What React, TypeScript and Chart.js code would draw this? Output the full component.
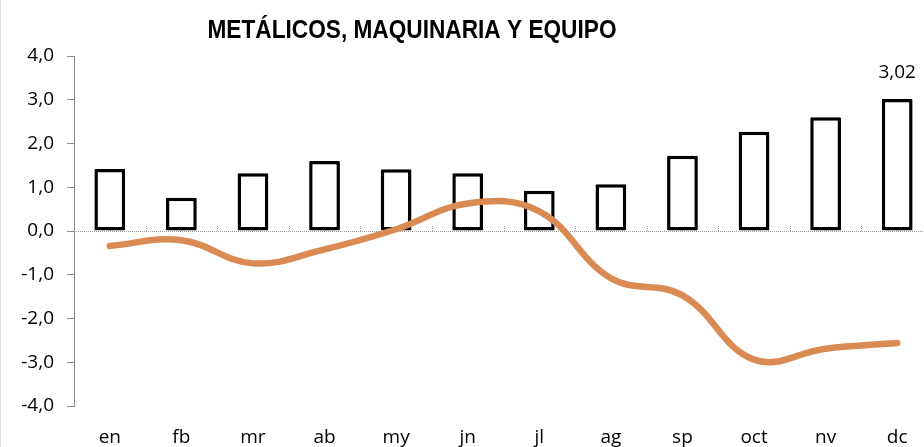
import React, { useEffect, useRef } from "react";
import { Chart, registerables } from "chart.js";

Chart.register(...registerables);

const categories = ["en", "fb", "mr", "ab", "my", "jn", "jl", "ag", "sp", "oct", "nv", "dc"];
const barValues = [1.42, 0.76, 1.32, 1.6, 1.41, 1.32, 0.92, 1.07, 1.72, 2.27, 2.6, 3.02];
const lineValues = [-0.34, -0.21, -0.74, -0.42, 0.04, 0.63, 0.45, -1.08, -1.47, -2.94, -2.69, -2.56];
const yMin = -4;
const yMax = 4;
const yStep = 1;
const titleText = "METÁLICOS, MAQUINARIA Y EQUIPO";
const labelIndex = 11;
const labelText = "3,02";

const FAMILY = "'Open Sans', 'Noto Sans', sans-serif";
const tickFont = { family: FAMILY, size: 19 };

const fmt = (v: number) => v.toFixed(1).replace(".", ",");

const decorPlugin = {
  id: "decor",
  beforeDatasetsDraw(chart: any) {
    const { ctx, chartArea, scales } = chart;
    const y0 = Math.round(scales.y.getPixelForValue(0));
    ctx.save();
    ctx.strokeStyle = "#9a9a9a";
    ctx.lineWidth = 1;
    ctx.setLineDash([1, 1]);
    ctx.beginPath();
    ctx.moveTo(chartArea.left, y0 + 0.5);
    ctx.lineTo(chartArea.right, y0 + 0.5);
    ctx.stroke();
    const xs = scales.x;
    const half = (xs.getPixelForValue(1) - xs.getPixelForValue(0)) / 2;
    for (let i = 0; i < categories.length; i++) {
      const c = xs.getPixelForValue(i);
      [c, c + half].forEach((px) => {
        ctx.beginPath();
        ctx.moveTo(Math.round(px) + 0.5, y0 - 5);
        ctx.lineTo(Math.round(px) + 0.5, y0);
        ctx.stroke();
      });
    }
    ctx.restore();
  },
  afterDatasetsDraw(chart: any) {
    const { ctx } = chart;
    const meta = chart.getDatasetMeta(1);
    const bar = meta.data[labelIndex];
    ctx.save();
    ctx.fillStyle = "#000";
    ctx.font = `${tickFont.size}px ${tickFont.family}`;
    ctx.textAlign = "center";
    ctx.textBaseline = "middle";
    ctx.fillText(labelText, bar.x, bar.y - 26);
    // title, horizontally condensed like the original narrow face
    ctx.font = "bold 26px 'Liberation Sans', Arial, sans-serif";
    const w = ctx.measureText(titleText).width;
    const sx = 409 / w;
    ctx.translate(412, 38);
    ctx.scale(sx, 1);
    ctx.textAlign = "center";
    ctx.textBaseline = "alphabetic";
    ctx.fillText(titleText, 0, 0);
    ctx.restore();
  },
};

export default function App() {
  const ref = useRef<HTMLCanvasElement>(null);
  useEffect(() => {
    let chart: Chart | null = null;
    let cancelled = false;
    const make = () => {
      if (cancelled || !ref.current) return;
      chart = new Chart(ref.current, {
        type: "bar",
        data: {
          labels: categories,
          datasets: [
            {
              type: "line",
              data: lineValues,
              borderColor: "#D98B53",
              borderWidth: 6.5,
              borderCapStyle: "round",
              borderJoinStyle: "round",
              pointRadius: 0,
              tension: 0.4,
              fill: false,
              order: 0,
            } as any,
            {
              type: "bar",
              data: barValues,
              backgroundColor: "#ffffff",
              borderColor: "#000000",
              borderWidth: 3.5,
              borderSkipped: false,
              borderRadius: 1,
              barPercentage: 0.43,
              categoryPercentage: 1,
              order: 1,
            } as any,
          ],
        },
        options: {
          animation: false,
          responsive: false,
          maintainAspectRatio: false,
          layout: { padding: { top: 56, right: 0, left: 0, bottom: 0 } },
          plugins: { legend: { display: false }, tooltip: { enabled: false }, title: { display: false } },
          scales: {
            x: {
              offset: true,
              grid: { display: false, drawTicks: false },
              border: { display: false },
              ticks: { color: "#000", font: tickFont, padding: 20, maxRotation: 0 },
              afterFit: (s: any) => {
                s.height = 41;
              },
            },
            y: {
              min: yMin,
              max: yMax,
              ticks: {
                stepSize: yStep,
                color: "#000",
                font: tickFont,
                padding: 13,
                callback: (v: any) => fmt(Number(v)),
              },
              grid: { drawOnChartArea: false, drawTicks: true, tickLength: 7, color: "#8c8c8c" },
              border: { display: true, color: "#8c8c8c", width: 1 },
              afterFit: (s: any) => {
                s.width = 74;
              },
            },
          },
        },
        plugins: [decorPlugin],
      });
    };
    const fonts = (document as any).fonts;
    if (fonts && fonts.load) {
      Promise.all([fonts.load(`19px ${FAMILY}`), fonts.load("bold 26px 'Liberation Sans'")])
        .catch(() => {})
        .then(make);
    } else {
      make();
    }
    return () => {
      cancelled = true;
      if (chart) chart.destroy();
    };
  }, []);
  return (
    <div
      style={{
        position: "absolute",
        left: 0,
        top: 0,
        width: 924,
        height: 447,
        overflow: "hidden",
        background: "#fff",
        borderLeft: "1px solid #e0e0e0",
        boxSizing: "border-box",
      }}
    >
      <canvas ref={ref} width={933} height={447} style={{ display: "block", marginLeft: -1 }} />
    </div>
  );
}
